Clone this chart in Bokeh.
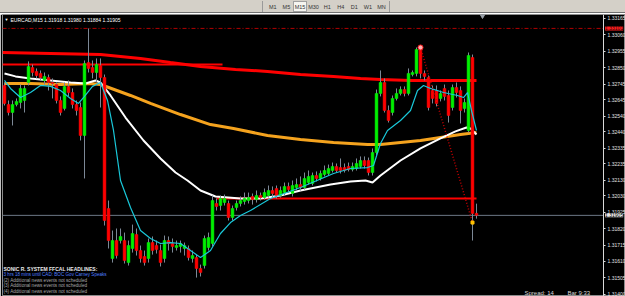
from bokeh.plotting import figure
from bokeh.models import Range1d, FixedTicker, PrintfTickFormatter, Label, Div, ColumnDataSource
from bokeh.layouts import column
from bokeh.embed import file_html
from bokeh.resources import INLINE

SYMBOL = "EURCAD,M15"
TF_LABELS = ["M1", "M5", "M15", "M30", "H1", "H4", "D1", "W1", "MN"]
ACTIVE_TF = "M15"

OPEN = [1.32736, 1.32614, 1.32563, 1.32614, 1.32627, 1.32640, 1.32755, 1.32851, 1.32826, 1.32813,
        1.32768, 1.32787, 1.32755, 1.32742, 1.32640, 1.32589, 1.32730, 1.32691, 1.32614, 1.32595,
        1.32416, 1.32883, 1.32851, 1.32819, 1.32864, 1.32787, 1.31949, 1.31629, 1.31744, 1.31744,
        1.31744, 1.31603, 1.31693, 1.31782, 1.31680, 1.31642, 1.31629, 1.31731, 1.31712, 1.31680,
        1.31629, 1.31744, 1.31725, 1.31699, 1.31706, 1.31693, 1.31693, 1.31629, 1.31635, 1.31565,
        1.31584, 1.31699, 1.31725, 1.31981, 1.31968, 1.31987, 1.31981, 1.31891, 1.31955, 1.31981,
        1.31994, 1.32000, 1.32026, 1.32006, 1.32032, 1.32019, 1.32032, 1.32064, 1.32077, 1.32032,
        1.32051, 1.32090, 1.32045, 1.32083, 1.32102, 1.32083, 1.32115, 1.32109, 1.32160, 1.32141,
        1.32166, 1.32173, 1.32192, 1.32218, 1.32211, 1.32211, 1.32218, 1.32198, 1.32205, 1.32218,
        1.32256, 1.32256, 1.32179, 1.32307, 1.32685, 1.32755, 1.32576, 1.32563, 1.32653, 1.32685,
        1.32710, 1.32685, 1.32806, 1.32813, 1.32966, 1.32813, 1.32787, 1.32704, 1.32704, 1.32653,
        1.32717, 1.32672, 1.32595, 1.32723, 1.32704, 1.32589, 1.32448, 1.32915, 1.31918]
HIGH = [1.32755, 1.32640, 1.32640, 1.32653, 1.32742, 1.32736, 1.32890, 1.32870, 1.32845, 1.32832,
        1.32819, 1.32806, 1.32781, 1.32755, 1.32666, 1.32755, 1.32768, 1.32717, 1.32640, 1.32627,
        1.32896, 1.33101, 1.32896, 1.32909, 1.32909, 1.32806, 1.32000, 1.31808, 1.31821, 1.31821,
        1.31795, 1.31744, 1.31846, 1.31821, 1.31712, 1.31680, 1.31757, 1.31770, 1.31744, 1.31718,
        1.31776, 1.31770, 1.31757, 1.31744, 1.31744, 1.31731, 1.31712, 1.31680, 1.31654, 1.31590,
        1.31776, 1.31795, 1.32032, 1.32013, 1.32032, 1.32038, 1.32000, 1.31968, 1.32000, 1.32026,
        1.32051, 1.32051, 1.32045, 1.32064, 1.32051, 1.32077, 1.32096, 1.32090, 1.32096, 1.32090,
        1.32115, 1.32115, 1.32128, 1.32141, 1.32154, 1.32179, 1.32192, 1.32179, 1.32186, 1.32192,
        1.32224, 1.32230, 1.32243, 1.32237, 1.32269, 1.32237, 1.32243, 1.32243, 1.32269, 1.32282,
        1.32282, 1.32275, 1.32333, 1.32710, 1.32832, 1.32781, 1.32608, 1.32672, 1.32717, 1.32730,
        1.32730, 1.32845, 1.32832, 1.32979, 1.32992, 1.32832, 1.32800, 1.32736, 1.32736, 1.32704,
        1.32742, 1.32704, 1.32742, 1.32755, 1.32730, 1.32653, 1.32947, 1.32934, 1.31980]
LOW = [1.32608, 1.32544, 1.32480, 1.32602, 1.32589, 1.32563, 1.32736, 1.32794, 1.32781, 1.32768,
       1.32742, 1.32704, 1.32653, 1.32621, 1.32544, 1.32576, 1.32666, 1.32589, 1.32544, 1.32384,
       1.32141, 1.32819, 1.32781, 1.32755, 1.32595, 1.31840, 1.31693, 1.31603, 1.31629, 1.31725,
       1.31597, 1.31584, 1.31667, 1.31648, 1.31603, 1.31584, 1.31603, 1.31654, 1.31661, 1.31578,
       1.31603, 1.31680, 1.31667, 1.31680, 1.31667, 1.31648, 1.31616, 1.31603, 1.31507, 1.31514,
       1.31565, 1.31680, 1.31706, 1.31936, 1.31936, 1.31968, 1.31872, 1.31872, 1.31936, 1.31962,
       1.31974, 1.31981, 1.31974, 1.31987, 1.32000, 1.32006, 1.32019, 1.32019, 1.32013, 1.32019,
       1.32032, 1.32051, 1.32026, 1.32064, 1.32064, 1.32070, 1.32102, 1.32096, 1.32122, 1.32128,
       1.32154, 1.32160, 1.32179, 1.32179, 1.32173, 1.32179, 1.32186, 1.32186, 1.32192, 1.32205,
       1.32205, 1.32160, 1.32160, 1.32288, 1.32666, 1.32563, 1.32499, 1.32544, 1.32640, 1.32672,
       1.32666, 1.32672, 1.32794, 1.32794, 1.32781, 1.32768, 1.32576, 1.32621, 1.32602, 1.32634,
       1.32640, 1.32499, 1.32576, 1.32659, 1.32493, 1.32563, 1.32435, 1.31744, 1.31884]
CLOSE = [1.32621, 1.32563, 1.32614, 1.32634, 1.32717, 1.32717, 1.32858, 1.32819, 1.32800, 1.32787,
         1.32794, 1.32755, 1.32749, 1.32640, 1.32563, 1.32730, 1.32691, 1.32614, 1.32576, 1.32416,
         1.32877, 1.32845, 1.32819, 1.32870, 1.32787, 1.31872, 1.31744, 1.31744, 1.31648, 1.31770,
         1.31616, 1.31712, 1.31789, 1.31680, 1.31629, 1.31603, 1.31731, 1.31680, 1.31686, 1.31603,
         1.31744, 1.31725, 1.31706, 1.31712, 1.31725, 1.31712, 1.31635, 1.31648, 1.31565, 1.31539,
         1.31757, 1.31763, 1.32000, 1.31962, 1.32013, 1.32013, 1.31891, 1.31949, 1.31981, 1.32000,
         1.32013, 1.32019, 1.32006, 1.32032, 1.32019, 1.32051, 1.32064, 1.32045, 1.32032, 1.32064,
         1.32090, 1.32070, 1.32096, 1.32102, 1.32083, 1.32141, 1.32154, 1.32160, 1.32141, 1.32173,
         1.32192, 1.32205, 1.32218, 1.32192, 1.32192, 1.32192, 1.32198, 1.32218, 1.32237, 1.32256,
         1.32224, 1.32179, 1.32307, 1.32685, 1.32755, 1.32576, 1.32512, 1.32653, 1.32685, 1.32710,
         1.32685, 1.32813, 1.32819, 1.32966, 1.32813, 1.32794, 1.32595, 1.32653, 1.32621, 1.32685,
         1.32666, 1.32544, 1.32723, 1.32691, 1.32576, 1.32627, 1.32928, 1.31917, 1.31905]

# indicator lines, sampled (bar index, price)
FAST_MA_BAR = [0, 1.5, 4, 6.5, 9, 11.5, 14, 16.5, 18.5, 20, 22, 24, 25.75, 27.25, 29, 31.5, 34, 36.5,
               39, 41.5, 44, 46.5, 49, 51.5, 54, 56.5, 59, 61.5, 66.5, 74, 82.25, 86.5, 90.75, 92.25,
               94, 95.75, 99, 101.5, 103.25, 104.75, 106.5, 109.75, 113.25, 114.75, 115.75, 116.75, 118]
FAST_MA = [1.32768, 1.32717, 1.32659, 1.32691, 1.32736, 1.32730, 1.32704, 1.32653, 1.32621, 1.32666,
           1.32730, 1.32755, 1.32640, 1.32448, 1.32128, 1.31955, 1.31808, 1.31757,
           1.31725, 1.31731, 1.31725, 1.31680, 1.31635, 1.31680, 1.31789, 1.31859, 1.31904, 1.31936,
           1.32013, 1.32083, 1.32173, 1.32205, 1.32211, 1.32224,
           1.32365, 1.32448, 1.32512, 1.32576, 1.32704, 1.32736, 1.32717, 1.32691, 1.32672, 1.32659,
           1.32691, 1.32576, 1.32448]
MID_MA_BAR = [0, 2.75, 6.5, 11.5, 16.5, 20.25, 22.75, 24, 26.5, 30.25, 34.75, 39, 42.75, 45.75, 49,
              52.75, 59, 64, 69, 74, 81.5, 86.5, 90.25, 92, 94, 99, 104, 109, 112.75, 115.5, 116.5, 118]
MID_MA = [1.32813, 1.32794, 1.32781, 1.32768, 1.32755, 1.32749, 1.32768, 1.32755, 1.32672, 1.32531,
          1.32384, 1.32269, 1.32179, 1.32128, 1.32064, 1.32026, 1.32013, 1.32013, 1.32032, 1.32064,
          1.32102, 1.32122, 1.32128, 1.32115, 1.32160, 1.32256, 1.32333, 1.32397, 1.32442, 1.32467,
          1.32461, 1.32422]
SLOW_MA_BAR = [0, 6.5, 14, 21.5, 24, 31.5, 36.5, 44, 51.5, 57.25, 65.75, 74, 82.25, 90.75, 94, 99,
               104, 109, 114, 118]
SLOW_MA = [1.32749, 1.32749, 1.32742, 1.32749, 1.32742, 1.32672, 1.32621, 1.32550, 1.32486, 1.32461,
           1.32416, 1.32390, 1.32371, 1.32358, 1.32358, 1.32371, 1.32384, 1.32403, 1.32422, 1.32435]
LONG_MA_BAR = [-0.5, 11.5, 24, 34, 41.5, 49, 57.75, 65.75, 74, 82.25, 89, 94, 101.5, 118]
LONG_MA = [1.32947, 1.32941, 1.32934, 1.32909, 1.32883, 1.32858, 1.32838, 1.32826, 1.32806, 1.32794,
           1.32781, 1.32774, 1.32768, 1.32768]

LEVEL_PRICE = [1.32870, 1.32013]
LEVEL_START = [-0.5, 53.0]
LEVEL_END = [54.5, 118]
DAY_HIGH = 1.33101
BID = 1.31905
TREND_BAR = [104, 117]
TREND_PRICE = [1.32979, 1.31859]
PEAK_BAR, PEAK_PRICE = 104, 1.32979
SIGNAL_BAR, SIGNAL_PRICE = 117, 1.31859
SHIFT_BAR = 119.5

PRICE_TICKS = [1.33165, 1.33060, 1.32955, 1.32850, 1.32745, 1.32645, 1.32540, 1.32440, 1.32335,
               1.32235, 1.32130, 1.32030, 1.31925, 1.31820, 1.31715, 1.31610, 1.31505, 1.31400]

NEWS = ["SONIC R. SYSTEM  FFCAL HEADLINES:",
        "3 hrs 18 mins until CAD: BOC Gov Carney Speaks",
        "(2) Additional news events not scheduled",
        "(3) Additional news events not scheduled",
        "(4) Additional news events not scheduled"]
NEWS_COLORS = ["#e8e8e8", "#4f7fff", "#a8a8a8", "#a8a8a8", "#a8a8a8"]
SPREAD_TEXT = "Spread: 14"
BAR_TEXT = "Bar 9:33"

FONT = "Liberation Sans"
X_START = -0.5
AXIS_BAR = 149.75        # bar position of the price scale line
X_END = 155.25

bars = list(range(len(OPEN)))
src = ColumnDataSource(dict(
    x=bars, h=HIGH, l=LOW,
    top=[max(o, c) for o, c in zip(OPEN, CLOSE)],
    bottom=[min(o, c) for o, c in zip(OPEN, CLOSE)],
    color=["#00f000" if c > o else "#ff0000" for o, c in zip(OPEN, CLOSE)],
))

p = figure(width=625, height=282, output_backend="svg", toolbar_location=None,
           x_range=Range1d(X_START, X_END), y_range=Range1d(1.31386, 1.33190),
           x_axis_location=None, y_axis_location="right",
           min_border_left=2, min_border_right=0, min_border_top=0, min_border_bottom=0,
           background_fill_color="black", border_fill_color="black",
           outline_line_color="#8c8c8c")
p.grid.visible = False

ax = p.yaxis[0]
ax.fixed_location = AXIS_BAR
ax.ticker = FixedTicker(ticks=PRICE_TICKS)
ax.formatter = PrintfTickFormatter(format="%.5f")
ax.axis_line_color = "#d8d8d8"
ax.major_tick_line_color = "#d8d8d8"
ax.major_tick_in = 0
ax.major_tick_out = 2
ax.minor_tick_line_color = None
ax.major_label_text_font_size = "5px"
ax.major_label_text_font = FONT
ax.major_label_text_color = "#e0e0e0"
ax.major_label_standoff = 2

# levels (stop at the price scale)
p.segment(x0=[X_START], y0=[DAY_HIGH], x1=[AXIS_BAR], y1=[DAY_HIGH], line_color="#b00000",
          line_width=1, line_dash="4 2 1 2")
p.segment(x0=[X_START], y0=[BID], x1=[AXIS_BAR], y1=[BID], line_color="#6c7886", line_width=1)

# slow lines
p.line(LONG_MA_BAR, LONG_MA, line_color="#ff0000", line_width=3)
p.segment(x0=LEVEL_START, y0=LEVEL_PRICE, x1=LEVEL_END, y1=LEVEL_PRICE, line_color="#ff0000", line_width=2)
p.line(SLOW_MA_BAR, SLOW_MA, line_color="#f5a31e", line_width=3)
p.line(MID_MA_BAR, MID_MA, line_color="#ffffff", line_width=2)

# candles
p.segment(x0="x", y0="l", x1="x", y1="h", source=src, line_color="#7c8896", line_width=1)
p.vbar(x="x", top="top", bottom="bottom", width=0.7, source=src,
       fill_color="color", line_color="color", line_width=0.5)

p.line(FAST_MA_BAR, FAST_MA, line_color="#19c8d9", line_width=1.2)

p.line(TREND_BAR, TREND_PRICE, line_color="#c00000", line_width=1.5, line_dash="1 2")
p.scatter([PEAK_BAR], [PEAK_PRICE], marker="circle", size=5, fill_color="#ffb0b0",
          line_color="#ff2020", line_width=1)
p.scatter([SIGNAL_BAR], [SIGNAL_PRICE], marker="square", size=3, fill_color="#ffc000",
          line_color="#ffc000")
p.scatter([SHIFT_BAR], [1.33183], marker="inverted_triangle", size=5, fill_color="#9aa0a8",
          line_color="#9aa0a8")

# price boxes on the scale
p.add_layout(Label(x=AXIS_BAR + 0.4, y=BID, text=f"{BID:.5f}", text_font=FONT,
                   text_font_size="5px", text_color="black", text_baseline="middle",
                   text_align="left", background_fill_color="#e8e8e8"))
p.add_layout(Label(x=AXIS_BAR + 0.4, y=DAY_HIGH, text=f"{DAY_HIGH:.5f}", text_font=FONT,
                   text_font_size="5px", text_color="#300000", text_baseline="middle",
                   text_align="left", background_fill_color="#ff2020"))

# header
p.add_layout(Label(x=2, y=277, x_units="screen", y_units="screen", text="\u25bc",
                   text_font=FONT, text_font_size="4px", text_color="white", text_baseline="middle"))
p.add_layout(Label(x=8, y=277, x_units="screen", y_units="screen",
                   text=f"{SYMBOL}  {OPEN[-1]:.5f} {HIGH[-1]:.5f} {LOW[-1]:.5f} {CLOSE[-1]:.5f}",
                   text_font=FONT, text_font_size="5px", text_color="white", text_baseline="middle"))

# news block
for k, (t, col) in enumerate(zip(NEWS, NEWS_COLORS)):
    p.add_layout(Label(x=1, y=28 - 5.8 * k, x_units="screen", y_units="screen", text=t,
                       text_font=FONT, text_font_size="5px" if k == 0 else "4.6px",
                       text_font_style="bold" if k == 0 else "normal",
                       text_color=col, text_baseline="middle"))

p.add_layout(Label(x=522, y=4, x_units="screen", y_units="screen", text=SPREAD_TEXT,
                   text_font=FONT, text_font_size="6px", text_color="#d8d8d8", text_baseline="middle"))
p.add_layout(Label(x=565, y=4, x_units="screen", y_units="screen", text=BAR_TEXT,
                   text_font=FONT, text_font_size="6px", text_color="#d8d8d8", text_baseline="middle"))

# terminal toolbar strip
btns = "".join(
    '<span style="display:inline-block;width:13.6px;height:11px;line-height:11px;text-align:center;'
    'box-sizing:border-box;' + ('background:#f6f5f0;border:1px solid #a0a0a0;' if t == ACTIVE_TF else '')
    + f'">{t}</span>' for t in TF_LABELS)
html = ('<div style="position:relative;width:625px;height:13px;background:#d4d0c8;'
        'border-bottom:1px solid #707070;font-family:\'Liberation Sans\',Arial,sans-serif;'
        'font-size:5.5px;color:#333;overflow:hidden;">'
        '<div style="position:absolute;left:262px;top:1px;width:1px;height:11px;background:#9a9a9a;"></div>'
        f'<div style="position:absolute;left:266px;top:1px;white-space:nowrap;">{btns}</div>'
        '<div style="position:absolute;left:389px;top:1px;width:1px;height:11px;background:#9a9a9a;"></div>'
        '</div>')
div = Div(text=html, width=625, height=14, margin=(0, 0, 0, 0))

layout = column(div, p, spacing=0)
open("out.html", "w").write(file_html(layout, INLINE))
